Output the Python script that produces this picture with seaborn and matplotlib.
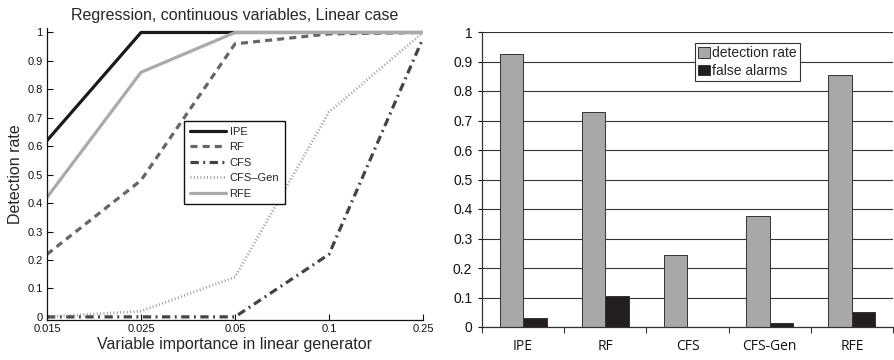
import matplotlib
matplotlib.use("Agg")
import matplotlib.pyplot as plt
import seaborn as sns
import pandas as pd
import numpy as np

# ---- data: left panel ----
importance_labels = ["0.015", "0.025", "0.05", "0.1", "0.25"]
ipe = [0.62, 1.0, 1.0, 1.0, 1.0]
rf = [0.22, 0.48, 0.96, 0.995, 1.0]
cfs = [0.0, 0.0, 0.0, 0.22, 0.98]
cfs_gen = [0.0, 0.02, 0.14, 0.72, 1.0]
rfe = [0.42, 0.86, 1.0, 1.0, 1.0]

# ---- data: right panel ----
methods = ["IPE", "RF", "CFS", "CFS-Gen", "RFE"]
detection_rate = [0.925, 0.73, 0.245, 0.375, 0.855]
false_alarms = [0.03, 0.105, 0.0, 0.015, 0.05]

sns.set_theme(style="white")
plt.rcParams["font.family"] = ["Liberation Sans", "DejaVu Sans"]

fig = plt.figure(figsize=(8.95, 3.6), dpi=100)

# ---------------- left panel ----------------
axL = fig.add_axes([47 / 895, 1 - 320 / 360, (423 - 47) / 895, (320 - 28.5) / 360])
series = {"IPE": ipe, "RF": rf, "CFS": cfs, "CFS\u2013Gen": cfs_gen, "RFE": rfe}
styles = {
    "IPE": dict(color="#1a1a1a", lw=2.3, ls="-"),
    "RF": dict(color="#666666", lw=2.3, ls=(0, (2.2, 1.6))),
    "CFS": dict(color="#444444", lw=2.3, ls=(0, (2.6, 1.4, 0.6, 1.4))),
    "CFS\u2013Gen": dict(color="#8a8a8a", lw=2.0, ls=(0, (0.3, 0.9))),
    "RFE": dict(color="#aaaaaa", lw=2.3, ls="-"),
}
xpos = np.arange(len(importance_labels))
for name, vals in series.items():
    st = styles[name]
    sns.lineplot(x=xpos, y=vals, ax=axL, color=st["color"], linewidth=st["lw"],
                 linestyle=st["ls"], label=name)
axL.set_xlim(0, 4)
axL.set_ylim(-0.011, 1.014)
axL.set_xticks(xpos)
axL.set_xticklabels(importance_labels)
axL.set_yticks(np.round(np.arange(0, 1.01, 0.1), 1))
axL.set_yticklabels(["0"] + [f"{v:.1f}" for v in np.arange(0.1, 0.95, 0.1)] + ["1"])
axL.tick_params(direction="in", length=4, width=0.8, labelsize=8, colors="#111111",
                left=True, bottom=True, pad=3)
for s in ["top", "right"]:
    axL.spines[s].set_visible(False)
for s in ["left", "bottom"]:
    axL.spines[s].set_color("#111111")
    axL.spines[s].set_linewidth(0.9)
axL.set_xlabel("Variable importance in linear generator", fontsize=11.5, labelpad=2)
axL.set_ylabel("Detection rate", fontsize=11.5, labelpad=3)
axL.set_title("Regression, continuous variables, Linear case", fontsize=11.5, pad=6)
legL = axL.legend(loc="upper left", bbox_to_anchor=(184 / 895, 1 - 121 / 360),
                  bbox_transform=fig.transFigure, borderaxespad=0, fontsize=8,
                  frameon=True, fancybox=False, edgecolor="#111111", handlelength=3.3,
                  labelspacing=0.5, borderpad=0.5, handletextpad=0.3)
legL.get_frame().set_linewidth(1.0)
legL.get_frame().set_alpha(1)

# ---------------- right panel ----------------
axR = fig.add_axes([482 / 895, 1 - 327 / 360, (893 - 482) / 895, (327 - 32) / 360])
df = pd.DataFrame({
    "method": methods * 2,
    "metric": ["detection rate"] * len(methods) + ["false alarms"] * len(methods),
    "value": detection_rate + false_alarms,
})
sns.barplot(data=df, x="method", y="value", hue="metric", ax=axR,
            palette={"detection rate": "#a7a8aa", "false alarms": "#231f20"},
            width=0.57, edgecolor="#333333", linewidth=0.7, saturation=1)
axR.set_xlim(-0.5, 4.5)
axR.set_ylim(0, 1)
axR.set_yticks(np.round(np.arange(0, 1.01, 0.1), 1))
axR.set_yticklabels(["0"] + [f"{v:.1f}" for v in np.arange(0.1, 0.95, 0.1)] + ["1"])
axR.set_axisbelow(True)
axR.yaxis.grid(True, color="#333333", linewidth=0.8)
axR.set_xlabel("")
axR.set_ylabel("")
for s in ["top", "right"]:
    axR.spines[s].set_visible(False)
for s in ["left", "bottom"]:
    axR.spines[s].set_color("#333333")
    axR.spines[s].set_linewidth(0.9)
axR.tick_params(axis="y", direction="out", length=3, width=0.8, labelsize=10, left=True,
                colors="#111111", pad=4)
axR.tick_params(axis="x", which="major", length=0, labelsize=10, pad=9, colors="#111111")
axR.set_xticks(np.arange(-0.5, 4.6, 1.0), minor=True)
axR.tick_params(axis="x", which="minor", direction="out", length=4, width=0.8,
                bottom=True, color="#333333")
for lab in axR.get_xticklabels():
    lab.set_family(["Open Sans", "DejaVu Sans"])
legR = axR.legend(loc="upper left", bbox_to_anchor=(695 / 895, 1 - 43 / 360),
                  bbox_transform=fig.transFigure, borderaxespad=0, fontsize=10,
                  frameon=True, fancybox=False, edgecolor="#333333", title=None,
                  handlelength=0.8, handleheight=0.8, handletextpad=0.2,
                  labelspacing=0.25, borderpad=0.25)
legR.get_frame().set_linewidth(0.8)
legR.get_frame().set_alpha(1)

fig.savefig("out.png", dpi=100)
